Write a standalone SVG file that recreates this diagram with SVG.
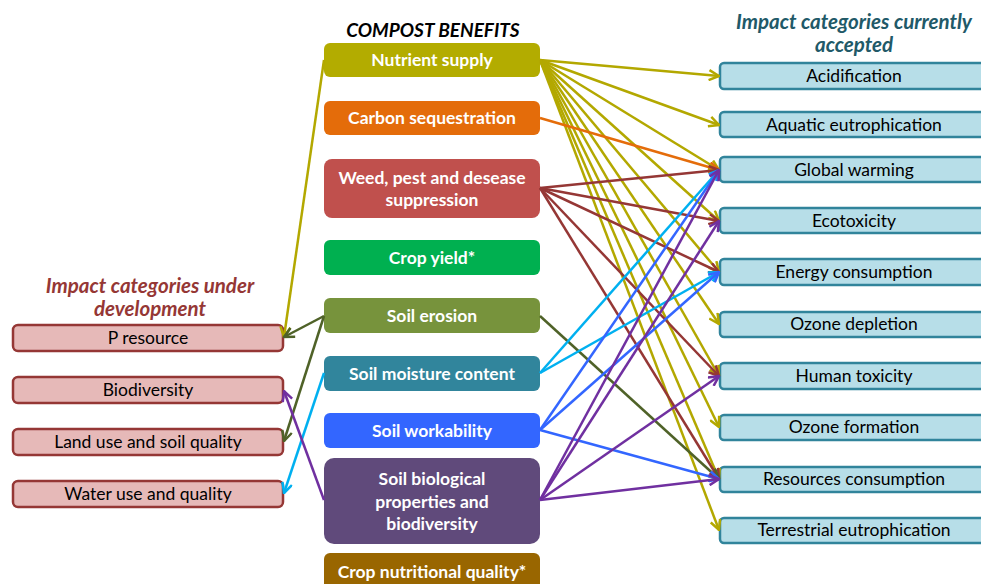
<svg xmlns="http://www.w3.org/2000/svg" width="981" height="584" viewBox="0 0 981 584">
<style>
.hd{font-family:Lato,"Liberation Sans",sans-serif;font-weight:bold;font-style:italic;font-size:20.5px;text-anchor:middle}
.cb text{font-family:Lato,"Liberation Sans",sans-serif;font-weight:bold;font-size:17.5px;fill:#fff;text-anchor:middle}
.rb rect{fill:#b7dee8;stroke:#31849b;stroke-width:2.5}
.lb rect{fill:#e6b9b8;stroke:#953735;stroke-width:2.5}
.rb text,.lb text{font-family:Lato,"Liberation Sans",sans-serif;font-size:17.5px;fill:#000;text-anchor:middle}
#connectors path{fill:none;stroke-width:2.5}
.y{stroke:#b3a800;marker-end:url(#aY)}
.o{stroke:#e46c0a;marker-end:url(#aO)}
.r{stroke:#953735;marker-end:url(#aR)}
.g{stroke:#4f6228;marker-end:url(#aG)}
.c{stroke:#00b0f0;marker-end:url(#aC)}
.b{stroke:#3366ff;marker-end:url(#aB)}
.p{stroke:#7030a0;marker-end:url(#aP)}
</style>
<defs>
<marker id="aY" viewBox="0 0 12 12" refX="11" refY="6" markerWidth="12" markerHeight="12" markerUnits="userSpaceOnUse" orient="auto"><path d="M1,1 L11,6 L1,11" fill="none" stroke="#b3a800" stroke-width="2.5"/></marker>
<marker id="aO" viewBox="0 0 12 12" refX="11" refY="6" markerWidth="12" markerHeight="12" markerUnits="userSpaceOnUse" orient="auto"><path d="M1,1 L11,6 L1,11" fill="none" stroke="#e46c0a" stroke-width="2.5"/></marker>
<marker id="aR" viewBox="0 0 12 12" refX="11" refY="6" markerWidth="12" markerHeight="12" markerUnits="userSpaceOnUse" orient="auto"><path d="M1,1 L11,6 L1,11" fill="none" stroke="#953735" stroke-width="2.5"/></marker>
<marker id="aG" viewBox="0 0 12 12" refX="11" refY="6" markerWidth="12" markerHeight="12" markerUnits="userSpaceOnUse" orient="auto"><path d="M1,1 L11,6 L1,11" fill="none" stroke="#4f6228" stroke-width="2.5"/></marker>
<marker id="aC" viewBox="0 0 12 12" refX="11" refY="6" markerWidth="12" markerHeight="12" markerUnits="userSpaceOnUse" orient="auto"><path d="M1,1 L11,6 L1,11" fill="none" stroke="#00b0f0" stroke-width="2.5"/></marker>
<marker id="aB" viewBox="0 0 12 12" refX="11" refY="6" markerWidth="12" markerHeight="12" markerUnits="userSpaceOnUse" orient="auto"><path d="M1,1 L11,6 L1,11" fill="none" stroke="#3366ff" stroke-width="2.5"/></marker>
<marker id="aP" viewBox="0 0 12 12" refX="11" refY="6" markerWidth="12" markerHeight="12" markerUnits="userSpaceOnUse" orient="auto"><path d="M1,1 L11,6 L1,11" fill="none" stroke="#7030a0" stroke-width="2.5"/></marker>
</defs>
<rect width="981" height="584" fill="#fff"/>

<text class="hd" x="433" y="37" fill="#000" style="font-size:19px">COMPOST BENEFITS</text>
<text class="hd" x="854" y="29" fill="#215968">Impact categories currently</text>
<text class="hd" x="854" y="52" fill="#215968">accepted</text>
<text class="hd" x="150" y="293" fill="#953735">Impact categories under</text>
<text class="hd" x="150" y="316" fill="#953735">development</text>

<g class="cb">
<g id="n-nutrient"><rect x="324" y="43" width="216" height="34" rx="6" fill="#b3ac00"/><text x="432" y="66">Nutrient supply</text></g>
<g id="n-carbon"><rect x="324" y="101" width="216" height="34" rx="6" fill="#e46c0a"/><text x="432" y="124">Carbon sequestration</text></g>
<g id="n-weed"><rect x="324" y="159" width="216" height="59" rx="8" fill="#c0504d"/><text x="432" y="184">Weed, pest and desease</text><text x="432" y="206">suppression</text></g>
<g id="n-yield"><rect x="324" y="240" width="216" height="35" rx="6" fill="#00b050"/><text x="432" y="264">Crop yield*</text></g>
<g id="n-erosion"><rect x="324" y="298" width="216" height="35" rx="6" fill="#77933c"/><text x="432" y="322">Soil erosion</text></g>
<g id="n-moisture"><rect x="324" y="356" width="216" height="35" rx="6" fill="#31859c"/><text x="432" y="380">Soil moisture content</text></g>
<g id="n-workability"><rect x="324" y="413" width="216" height="35" rx="6" fill="#3366ff"/><text x="432" y="437">Soil workability</text></g>
<g id="n-bio"><rect x="324" y="458" width="216" height="86" rx="10" fill="#604a7b"/><text x="432" y="485">Soil biological</text><text x="432" y="508">properties and</text><text x="432" y="530">biodiversity</text></g>
<g id="n-nutqual"><rect x="324" y="553" width="216" height="45" rx="6" fill="#996600"/><text x="432" y="578">Crop nutritional quality*</text></g>
</g>

<g class="rb">
<g id="r-acid"><rect x="720" y="63" width="275" height="26" rx="4"/><text x="854" y="82">Acidification</text></g>
<g id="r-aqua"><rect x="720" y="112" width="275" height="25" rx="4"/><text x="854" y="131">Aquatic eutrophication</text></g>
<g id="r-gw"><rect x="720" y="157" width="275" height="25" rx="4"/><text x="854" y="176">Global warming</text></g>
<g id="r-eco"><rect x="720" y="208" width="275" height="25" rx="4"/><text x="854" y="227">Ecotoxicity</text></g>
<g id="r-energy"><rect x="720" y="259" width="275" height="26" rx="4"/><text x="854" y="278">Energy consumption</text></g>
<g id="r-ozdep"><rect x="720" y="312" width="275" height="25" rx="4"/><text x="854" y="330">Ozone depletion</text></g>
<g id="r-humtox"><rect x="720" y="363" width="275" height="26" rx="4"/><text x="854" y="382">Human toxicity</text></g>
<g id="r-ozform"><rect x="720" y="415" width="275" height="25" rx="4"/><text x="854" y="433">Ozone formation</text></g>
<g id="r-res"><rect x="720" y="467" width="275" height="25" rx="4"/><text x="854" y="485">Resources consumption</text></g>
<g id="r-terr"><rect x="720" y="518" width="275" height="25" rx="4"/><text x="854" y="536">Terrestrial eutrophication</text></g>
</g>

<g class="lb">
<g id="l-p"><rect x="13" y="325" width="270" height="26" rx="5"/><text x="148" y="344">P resource</text></g>
<g id="l-bio"><rect x="13" y="377" width="270" height="26" rx="5"/><text x="148" y="396">Biodiversity</text></g>
<g id="l-land"><rect x="13" y="429" width="270" height="26" rx="5"/><text x="148" y="448">Land use and soil quality</text></g>
<g id="l-water"><rect x="13" y="481" width="270" height="26" rx="5"/><text x="148" y="500">Water use and quality</text></g>
</g>

<g id="connectors">
<path class="y" d="M540,60 L719,76"/>
<path class="y" d="M540,60 L719,125"/>
<path class="y" d="M540,60 L719,170"/>
<path class="y" d="M540,60 L719,221"/>
<path class="y" d="M540,60 L719,272"/>
<path class="y" d="M540,60 L719,324"/>
<path class="y" d="M540,60 L719,376"/>
<path class="y" d="M540,60 L719,427"/>
<path class="y" d="M540,60 L719,479"/>
<path class="y" d="M540,60 L719,530"/>
<path class="y" d="M324,60 L284,337"/>
<path class="o" d="M540,118 L719,170"/>
<path class="r" d="M540,188 L719,170"/>
<path class="r" d="M540,188 L719,221"/>
<path class="r" d="M540,188 L719,272"/>
<path class="r" d="M540,188 L719,376"/>
<path class="r" d="M540,188 L719,479"/>
<path class="g" d="M540,316 L719,479"/>
<path class="g" d="M324,316 L284,337"/>
<path class="g" d="M324,316 L284,441"/>
<path class="c" d="M540,373 L719,170"/>
<path class="c" d="M540,373 L719,272"/>
<path class="c" d="M324,373 L284,493"/>
<path class="b" d="M540,430 L719,170"/>
<path class="b" d="M540,430 L719,272"/>
<path class="b" d="M540,430 L719,479"/>
<path class="p" d="M540,500 L719,170"/>
<path class="p" d="M540,500 L719,221"/>
<path class="p" d="M540,500 L719,376"/>
<path class="p" d="M540,500 L719,479"/>
<path class="p" d="M324,500 L284,391"/>
</g>
</svg>
